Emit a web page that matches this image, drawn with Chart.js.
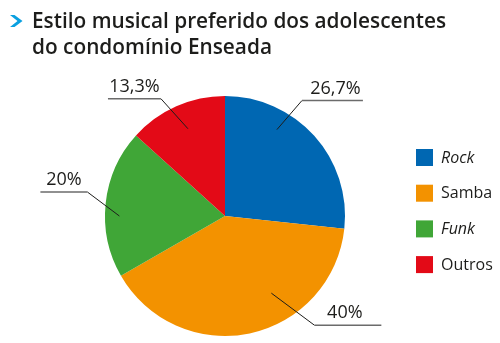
<!DOCTYPE html>
<html>
<head>
<meta charset="utf-8">
<script src="https://cdn.jsdelivr.net/npm/chart.js@4/dist/chart.umd.min.js"></script>
<style>
  html, body { margin: 0; padding: 0; background: #fff; }
  #wrap { width: 500px; height: 343px; position: relative; }
</style>
</head>
<body>
<div id="wrap"><canvas id="estiloChart"></canvas></div>
<script>
// Estilo musical preferido (percentual dos adolescentes)
const categories = ['Rock', 'Samba', 'Funk', 'Outros'];
const shares = [26.7, 40, 20, 13.3];
const sliceColors = ['#0067b2', '#f39200', '#40a637', '#e30a17'];
const italicNames = [true, false, true, false];

const titleLines = ['Estilo musical preferido dos adolescentes', 'do condomínio Enseada'];

// leader line for each slice: anchor angle (deg), reach (fraction of radius),
// elbow offset and horizontal run
const leaders = [
    { angle: -59, reach: 0.84, dx: 25, dy: -29, run: 61, shift: 3 },
    { angle: 59, reach: 0.75, dx: 43, dy: 32, run: 67, shift: -3 },
    { angle: 180, reach: 0.88, dx: -32, dy: -24, run: -47, shift: 0 },
    { angle: -113, reach: 0.79, dx: -27, dy: -30, run: -53, shift: 0 }
];

const fmtPct = v => String(v).replace('.', ',') + '%';

const decorPlugin = {
    id: 'decor',
    afterDraw(chart) {
        const ctx = chart.ctx;
        ctx.save();

        // title marker
        ctx.fillStyle = '#0aa0e0';
        ctx.beginPath();
        ctx.moveTo(10, 15);
        ctx.lineTo(14.5, 15);
        ctx.lineTo(22.5, 21);
        ctx.lineTo(14.5, 27);
        ctx.lineTo(10, 27);
        ctx.lineTo(17.5, 21);
        ctx.closePath();
        ctx.fill();

        // title
        ctx.fillStyle = '#1d1d1b';
        ctx.textBaseline = 'alphabetic';
        ctx.textAlign = 'left';
        ctx.font = '600 22px "Open Sans"';
        ctx.fillText(titleLines[0], 32, 28, 414);
        ctx.fillText(titleLines[1], 32, 54, 240);

        // leader lines and percentage labels
        const meta = chart.getDatasetMeta(0);
        meta.data.forEach((arc, i) => {
            const p = arc.getProps(['x', 'y', 'outerRadius'], true);
            const L = leaders[i];
            const a = L.angle * Math.PI / 180;
            const ax = p.x + Math.cos(a) * p.outerRadius * L.reach;
            const ay = p.y + Math.sin(a) * p.outerRadius * L.reach;
            const ex = ax + L.dx, ey = ay + L.dy;
            const endX = ex + L.run;

            ctx.strokeStyle = '#1d1d1b';
            ctx.lineWidth = 1;
            ctx.beginPath();
            ctx.moveTo(ax, ay);
            ctx.lineTo(ex, ey);
            ctx.stroke();

            ctx.strokeStyle = '#6b6b6b';
            ctx.lineWidth = 1.5;
            ctx.beginPath();
            ctx.moveTo(ex, ey);
            ctx.lineTo(endX, ey);
            ctx.stroke();

            ctx.fillStyle = '#1d1d1b';
            ctx.font = '18px "Open Sans"';
            ctx.textAlign = 'center';
            ctx.fillText(fmtPct(shares[i]), (ex + endX) / 2 + L.shift, ey - 7);
        });

        // legend
        ctx.textAlign = 'left';
        ctx.textBaseline = 'middle';
        categories.forEach((name, i) => {
            const y = 157 + i * 35.7;
            ctx.fillStyle = sliceColors[i];
            ctx.fillRect(416, y - 8, 17, 17);
            ctx.fillStyle = '#1d1d1b';
            ctx.font = (italicNames[i] ? 'italic ' : '') + '16px "Open Sans"';
            ctx.fillText(name, 441, y + 1);
        });

        ctx.restore();
    }
};

new Chart(document.getElementById('estiloChart'), {
    type: 'pie',
    data: {
        labels: categories,
        datasets: [{
            data: shares,
            backgroundColor: sliceColors,
            borderWidth: 0
        }]
    },
    options: {
        responsive: true,
        maintainAspectRatio: false,
        animation: false,
        layout: { padding: { left: 105, right: 155, top: 96, bottom: 7 } },
        plugins: {
            legend: { display: false },
            title: { display: false },
            tooltip: { enabled: false }
        }
    },
    plugins: [decorPlugin]
});
</script>
</body>
</html>
